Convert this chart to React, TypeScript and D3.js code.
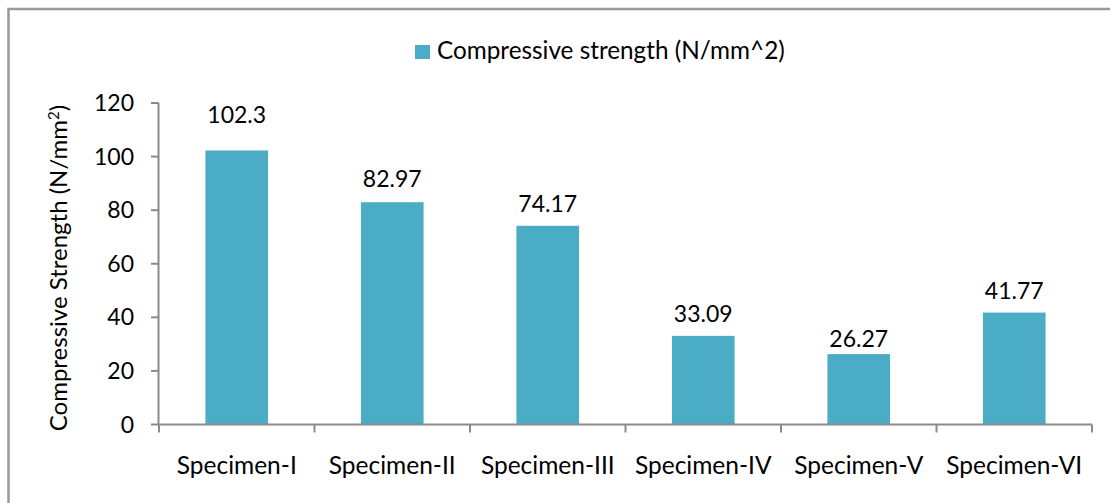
import React from 'react';
import * as d3 from 'd3';

const categories = ['Specimen-I', 'Specimen-II', 'Specimen-III', 'Specimen-IV', 'Specimen-V', 'Specimen-VI'];
const strength = [102.3, 82.97, 74.17, 33.09, 26.27, 41.77];
const strengthLabels = ['102.3', '82.97', '74.17', '33.09', '26.27', '41.77'];
const yTicks = [0, 20, 40, 60, 80, 100, 120];

// label placement in the source is a little uneven (hand moved in Excel)
const labelGap = [27, 15, 14, 14, 7, 14];

const W = 1110;
const H = 503;
const FONT = 'Lato, "Open Sans", sans-serif';
const BAR = '#4bacc6';
const AXIS = '#8a8a8a';

function App() {
  const x = d3.scaleBand<string>().domain(categories).range([159, 1092]).padding(0);
  const y = d3.scaleLinear().domain([0, 120]).range([424.5, 103]);
  const barW = x.bandwidth() * 0.403;
  const bounds = categories.map((c) => x(c) as number).concat([1092]);

  return (
    <svg width={W} height={H} style={{ position: 'absolute', left: 0, top: 0, background: '#fff' }}>
      {/* outer frame, only left and top edges fall inside the picture */}
      <path d={`M8.5,${H} L8.5,9 L${W},9`} fill="none" stroke="#999" strokeWidth={2.5} />

      {/* legend */}
      <rect x={415} y={45} width={15} height={14} fill={BAR} />
      <text x={437} y={59} fontFamily={FONT} fontSize={24.3} fill="#000">
        Compressive strength (N/mm^2)
      </text>

      {/* y axis title */}
      <text
        transform={`translate(67,268) rotate(-90)`}
        textAnchor="middle"
        fontFamily={FONT}
        fontSize={24}
        fill="#000"
      >
        Compressive Strength (N/mm
        <tspan dy={-8} fontSize={15}>2</tspan>
        <tspan dy={8}>)</tspan>
      </text>

      {/* bars */}
      {strength.map((v, i) => {
        const cx = (x(categories[i]) as number) + x.bandwidth() / 2;
        return (
          <g key={categories[i]}>
            <rect x={cx - barW / 2} y={y(v)} width={barW} height={y(0) - y(v)} fill={BAR} />
            <text
              x={cx}
              y={y(v) - labelGap[i]}
              textAnchor="middle"
              fontFamily={FONT}
              fontSize={23}
              fill="#000"
            >
              {strengthLabels[i]}
            </text>
          </g>
        );
      })}

      {/* y axis */}
      <line x1={158.5} x2={158.5} y1={y(120)} y2={y(0)} stroke={AXIS} strokeWidth={2} />
      {yTicks.map((t) => (
        <g key={t}>
          <line x1={151} x2={158.5} y1={y(t)} y2={y(t)} stroke={AXIS} strokeWidth={2} />
          <text x={134} y={y(t) + 8} textAnchor="end" fontFamily={FONT} fontSize={23} fill="#000">
            {t}
          </text>
        </g>
      ))}

      {/* x axis */}
      <line x1={158} x2={1092} y1={y(0)} y2={y(0)} stroke={AXIS} strokeWidth={2} />
      {bounds.map((b, i) => (
        <line key={i} x1={b} x2={b} y1={y(0)} y2={y(0) + 8} stroke={AXIS} strokeWidth={2} />
      ))}
      {categories.map((c) => (
        <text
          key={c}
          x={(x(c) as number) + x.bandwidth() / 2}
          y={474}
          textAnchor="middle"
          fontFamily={FONT}
          fontSize={24.5}
          fill="#000"
        >
          {c}
        </text>
      ))}
    </svg>
  );
}

export default App;
